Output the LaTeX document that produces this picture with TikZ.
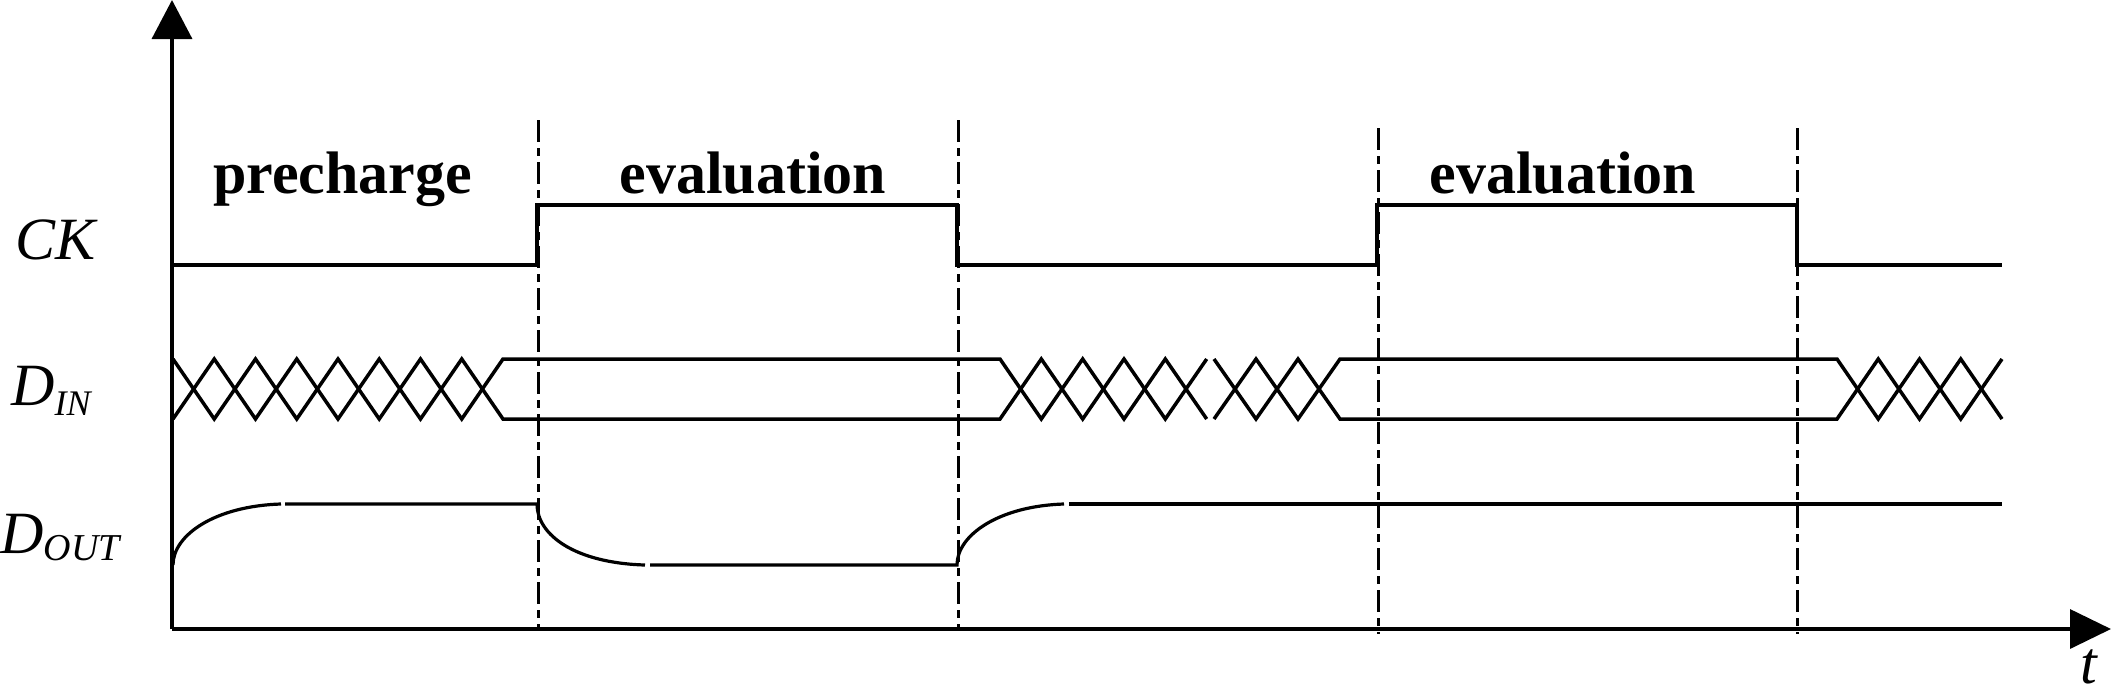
\documentclass[tikz,border=0pt]{standalone}
\usepackage{fontspec}
\setmainfont{Liberation Serif}
\usetikzlibrary{arrows.meta}
\begin{document}
\begin{tikzpicture}[x=0.5pt,y=-0.5pt,
  sig/.style={line width=1.75pt, line join=miter},
  curvesig/.style={line width=1.6pt},
  guide/.style={line width=1.5pt, dash pattern=on 11pt off 3pt on 4pt off 3pt},
  ax/.style={line width=1.75pt},
  lbl/.style={inner sep=0pt, anchor=base west, font=\fontsize{30pt}{36pt}\selectfont\itshape},
  phase/.style={inner sep=0pt, anchor=base west, font=\fontsize{30pt}{36pt}\selectfont\bfseries}]
\useasboundingbox (0,0) rectangle (2111,693);

% axes
\coordinate (O) at (172,629);
\coordinate (Ytop) at (172,0);
\coordinate (Xend) at (2111,629);
\draw[ax,-{Triangle[length=19.5pt,width=20pt]}] (O) -- (Ytop);
\draw[ax,-{Triangle[length=20.5pt,width=19.5pt]}] (O) -- (Xend);

% phase boundaries
\foreach \xx in {538,958} \draw[guide] (\xx,120) -- (\xx,627);
\foreach \xx in {1378,1797} \draw[guide] (\xx,128) -- (\xx,634);

% CK
\draw[sig] (172,265) -- (537,265) -- (537,205) -- (957,205) -- (957,265)
  -- (1377,265) -- (1377,205) -- (1797,205) -- (1797,265) -- (2002,265);

% D_IN
\draw[sig] (173,359) -- (214.25,419) -- (255.5,359) -- (296.75,419) -- (338,359)
  -- (379.25,419) -- (420.5,359) -- (461.75,419) -- (503,359) -- (1000,359)
  -- (1041.3,419) -- (1082.7,359) -- (1124,419) -- (1165.3,359) -- (1206.7,419);
\draw[sig] (173,419) -- (214.25,359) -- (255.5,419) -- (296.75,359) -- (338,419)
  -- (379.25,359) -- (420.5,419) -- (461.75,359) -- (503,419) -- (1000,419)
  -- (1041.3,359) -- (1082.7,419) -- (1124,359) -- (1165.3,419) -- (1206.7,359);
\draw[sig] (1214,359) -- (1256,419) -- (1298,359) -- (1340,419) -- (1837,419)
  -- (1878.25,359) -- (1919.5,419) -- (1960.75,359) -- (2002,419);
\draw[sig] (1214,419) -- (1256,359) -- (1298,419) -- (1340,359) -- (1837,359)
  -- (1878.25,419) -- (1919.5,359) -- (1960.75,419) -- (2002,359);

% D_OUT
\draw[curvesig] (173,565) .. controls (173,535) and (215,506) .. (281,504);
\draw[curvesig] (285,504) -- (537,504) .. controls (537,535) and (575,563) .. (645,565);
\draw[curvesig] (650,565) -- (957,565) .. controls (957,535) and (999,506) .. (1064,504);
\draw[curvesig] (1069,504) -- (2002,504);

% labels
\node[lbl] (ck) at (15,259) {CK};
\node[lbl] (din) at (11,405) {D\raisebox{-5pt}{\fontsize{18pt}{20pt}\selectfont IN}};
\node[lbl] (dout) at (0,553) {D\raisebox{-3.5pt}{\fontsize{19pt}{21pt}\selectfont OUT}};
\node[lbl] (t) at (2080,683) {t};

\node[phase] (pre) at (213,193) {precharge};
\node[phase] (ev1) at (619,193) {evaluation};
\node[phase] (ev2) at (1429,193) {evaluation};
\end{tikzpicture}
\end{document}
